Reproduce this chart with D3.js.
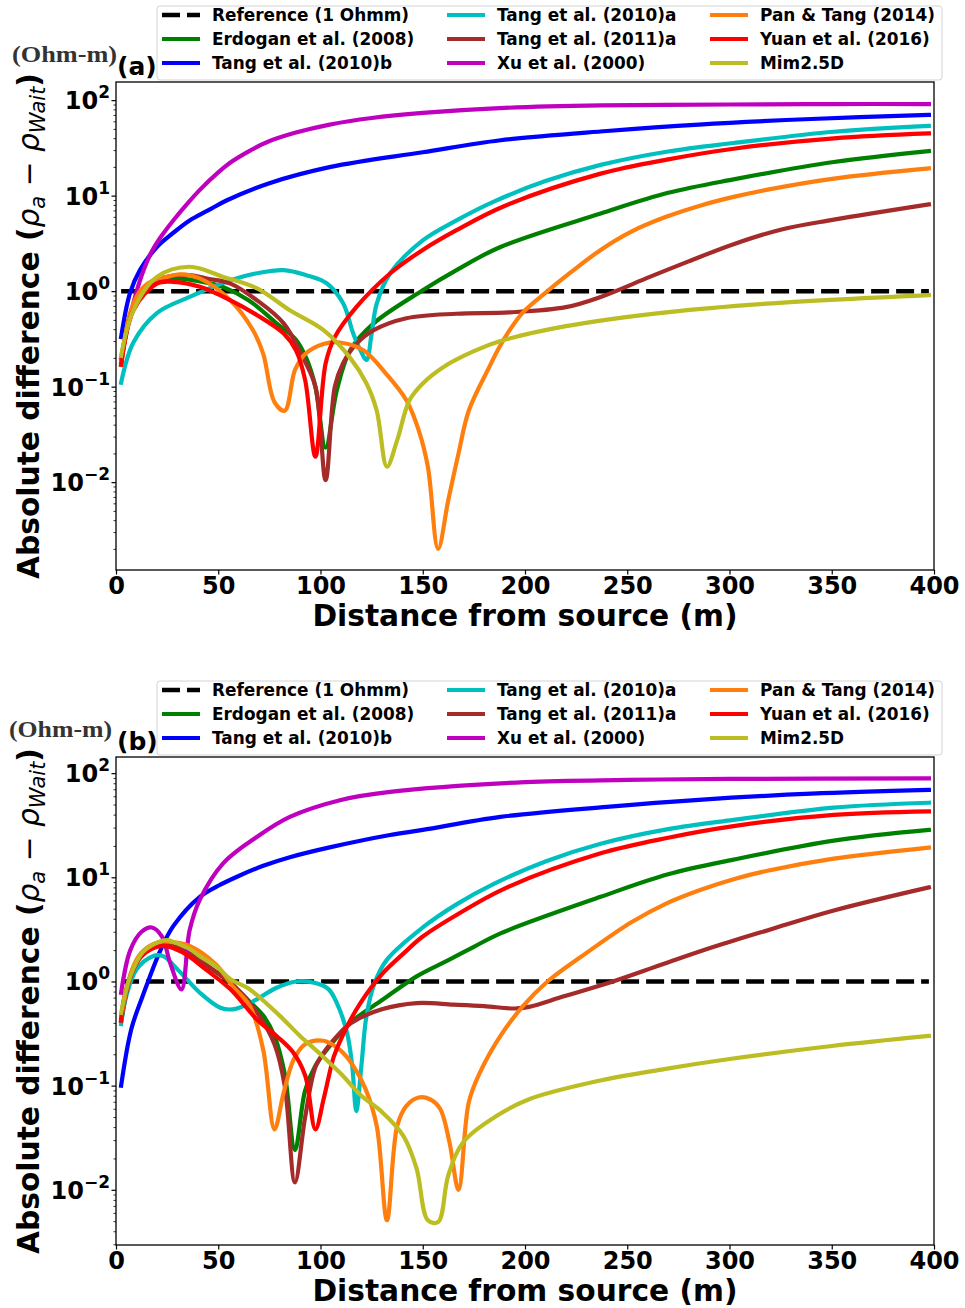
<!DOCTYPE html>
<html><head><meta charset="utf-8">
<script src="https://cdn.jsdelivr.net/npm/d3@7"></script>
<style>
html,body{margin:0;padding:0;background:#fff;}
svg{display:block;}
text{font-family:"DejaVu Sans",sans-serif;}
</style></head>
<body>
<svg id="chart" width="965" height="1308"></svg>
<script>
// ---------------- DATA ----------------
const legendLabels = ["Reference (1 Ohmm)", "Erdogan et al. (2008)", "Tang et al. (2010)b",
  "Tang et al. (2010)a", "Tang et al. (2011)a", "Xu et al. (2000)",
  "Pan & Tang (2014)", "Yuan et al. (2016)", "Mim2.5D"];
const seriesColors = ["#000000", "#008000", "#0000ff", "#00bfbf", "#a52a2a", "#bf00bf", "#ff7f0e", "#ff0000", "#bcbd22"];
const xTicks = [0, 50, 100, 150, 200, 250, 300, 350, 400];
const yTickExps = [-2, -1, 0, 1, 2];
const panelLabels = ["(a)", "(b)"];

const xRef = [2.5, 397.5];
const yRef = [1, 1];

// ---- panel (a) ----
const xGreenA = [2.5, 7.5, 12.5, 20, 27.5, 35, 45, 52, 65, 78.5, 88, 93, 97.5, 102.5, 108, 114.5, 126, 150, 166.5, 188, 237, 270, 302, 351, 397.5];
const yGreenA = [0.18, 0.62, 0.95, 1.25, 1.36, 1.33, 1.22, 1.11, 0.8, 0.46, 0.31, 0.2, 0.1, 0.023, 0.092, 0.24, 0.46, 1.02, 1.66, 2.9, 6.5, 10.7, 14.8, 22.5, 29.3];
const xBlueA = [2.5, 6.8, 11.7, 20, 27.5, 36, 45, 54, 75, 105, 150, 188, 240, 285, 340, 397.5];
const yBlueA = [0.33, 0.95, 1.66, 2.9, 4.0, 5.5, 7.0, 8.9, 13.5, 20, 28.5, 38, 47.5, 55.5, 63.5, 70];
const xCyanA = [2.5, 8.5, 20, 36, 56, 69, 82, 93, 103, 111, 116, 119.5, 122.5, 125, 127.5, 134, 150, 166.5, 185, 210, 237, 270, 302, 351, 397.5];
const yCyanA = [0.11, 0.29, 0.59, 0.87, 1.3, 1.54, 1.66, 1.47, 1.21, 0.75, 0.36, 0.24, 0.19, 0.36, 0.74, 1.53, 3.4, 5.5, 8.7, 14.2, 21, 29, 35.6, 46.7, 53.8];
const xBrownA = [2.5, 7.5, 12.5, 20, 30, 36, 45, 56, 69, 82, 91.5, 97.5, 102.5, 107, 111, 117.5, 126, 142, 166.5, 192.5, 220, 237, 261, 280, 302, 325, 351, 397.5];
const yBrownA = [0.17, 0.62, 1.0, 1.3, 1.47, 1.47, 1.35, 1.2, 0.8, 0.46, 0.2, 0.1, 0.0105, 0.1, 0.175, 0.28, 0.39, 0.52, 0.58, 0.6, 0.68, 0.87, 1.41, 2.05, 3.1, 4.4, 5.6, 8.1];
const xMagentaA = [2.5, 7.5, 12.5, 17.5, 22.5, 28, 35, 41, 50, 57, 66, 74, 87.5, 104.5, 125, 150, 187.5, 237, 300, 350, 397.5];
const yMagentaA = [0.2, 0.62, 1.45, 2.6, 3.85, 5.5, 8.3, 11.5, 17.5, 23, 30, 36.5, 45.5, 55.5, 65, 73.5, 82.5, 88, 90, 91, 91];
const xOrangeA = [2.5, 7.5, 12.5, 20, 25, 31, 41, 56, 67, 72, 77.5, 82.5, 87.5, 92.5, 101.5, 109.5, 121, 132, 142, 148, 152.5, 157.5, 162.5, 167.5, 172.5, 182.5, 187.5, 192.5, 199, 211, 222, 237, 252, 269, 286, 302, 318, 351, 397.5];
const yOrangeA = [0.18, 0.65, 1.05, 1.35, 1.41, 1.5, 1.36, 0.8, 0.39, 0.22, 0.069, 0.056, 0.149, 0.22, 0.28, 0.29, 0.24, 0.137, 0.072, 0.035, 0.0145, 0.002, 0.0065, 0.02, 0.056, 0.16, 0.26, 0.39, 0.6, 1.0, 1.55, 2.7, 4.2, 6.0, 7.9, 9.7, 11.5, 15.1, 19.3];
const xRedA = [2.5, 8.5, 20, 28, 41, 56, 69, 82, 88, 92.5, 97.5, 102.5, 107, 117.5, 134, 150, 166.5, 190, 237, 270, 302, 351, 397.5];
const yRedA = [0.17, 0.63, 1.2, 1.25, 1.11, 0.8, 0.56, 0.36, 0.24, 0.117, 0.0185, 0.175, 0.33, 0.68, 1.53, 2.7, 4.35, 7.8, 17, 24, 31, 39.8, 44.8];
const xOliveA = [2.5, 8.5, 20, 36, 52.5, 69, 85, 101.5, 114.5, 122.5, 127.5, 132.5, 137.5, 143.5, 150, 160, 175, 188, 220, 269, 318, 397.5];
const yOliveA = [0.21, 0.63, 1.41, 1.8, 1.41, 1.07, 0.63, 0.39, 0.2, 0.108, 0.056, 0.0145, 0.0275, 0.072, 0.108, 0.16, 0.235, 0.3, 0.43, 0.6, 0.74, 0.91];

// ---- panel (b) ----
const xGreenB = [2.5, 7.5, 12.5, 20, 27.5, 35, 45, 56, 65, 72, 77.5, 82.5, 87.5, 92.5, 97.5, 106, 114.5, 130.5, 147, 163, 175, 188, 237, 270, 302, 351, 397.5];
const yGreenB = [0.42, 1.2, 1.8, 2.2, 2.15, 1.9, 1.4, 0.97, 0.65, 0.47, 0.3, 0.13, 0.024, 0.09, 0.155, 0.26, 0.4, 0.67, 1.12, 1.62, 2.15, 2.9, 6.5, 10.7, 14.8, 22.5, 28.5];
const xBlueB = [2.5, 7.5, 13, 21.5, 28, 41, 50, 60, 72, 85, 105, 134, 150, 188, 240, 285, 340, 397.5];
const yBlueB = [0.1, 0.35, 0.72, 1.95, 3.4, 6.5, 8.3, 10.3, 12.9, 15.6, 19.5, 25.5, 28.5, 38, 47.5, 55.5, 63.5, 69];
const xCyanB = [2.5, 5, 10, 18, 23, 31, 41, 51, 57, 65.5, 78.5, 88, 98, 104, 108, 113, 115.5, 117.5, 120, 122.5, 126.5, 132.5, 150, 166.5, 185, 210, 237, 270, 302, 351, 397.5];
const yCyanB = [0.39, 0.72, 1.3, 1.75, 1.75, 1.25, 0.78, 0.56, 0.54, 0.62, 0.87, 1.0, 0.96, 0.84, 0.62, 0.32, 0.155, 0.057, 0.155, 0.47, 0.97, 1.62, 3.3, 5.5, 8.7, 14.2, 21, 29, 35.6, 46.7, 52];
const xBrownB = [2.5, 7.5, 12.5, 20, 27.5, 35, 45, 56, 69, 77.5, 82.5, 87.5, 92.5, 97.5, 102.5, 107.5, 115, 130, 147, 165, 180, 195, 202, 219, 243, 268, 292, 320, 351, 397.5];
const yBrownB = [0.42, 1.2, 1.85, 2.25, 2.2, 1.9, 1.4, 0.97, 0.5, 0.25, 0.1, 0.0118, 0.05, 0.15, 0.22, 0.29, 0.4, 0.54, 0.62, 0.6, 0.58, 0.55, 0.57, 0.72, 1.0, 1.48, 2.14, 3.16, 4.8, 8.0];
const xMagentaB = [2.5, 7, 12.5, 17.5, 22.5, 26.5, 32, 36, 41, 52.5, 69, 85, 109.5, 134, 200, 250, 300, 397.5];
const yMagentaB = [0.78, 2.0, 3.0, 3.3, 2.7, 1.5, 0.84, 3.1, 6.1, 13.7, 24.5, 38, 55, 66, 82, 86, 88, 89];
const xOrangeB = [2.5, 7.5, 12.5, 21.5, 30, 36, 49, 57, 65.5, 72, 77.5, 82, 87, 92.5, 101.5, 109.5, 116, 122, 127.5, 132.5, 137.5, 142, 148, 153.5, 158.5, 163, 167.5, 172.5, 178, 188, 199, 211, 232, 252, 269, 286, 302, 318, 351, 397.5];
const yOrangeB = [0.45, 1.25, 1.9, 2.4, 2.35, 2.2, 1.45, 0.9, 0.58, 0.22, 0.038, 0.086, 0.18, 0.25, 0.27, 0.22, 0.155, 0.093, 0.041, 0.0051, 0.041, 0.064, 0.077, 0.074, 0.06, 0.029, 0.01, 0.069, 0.134, 0.3, 0.58, 1.0, 2.0, 3.7, 5.6, 7.6, 9.6, 11.5, 15.1, 19.3];
const xRedB = [2.5, 5, 12.5, 23, 33, 44, 56, 69, 78.5, 86.5, 92.5, 97.5, 101.5, 104.5, 106.5, 113, 119.5, 130.5, 140.5, 150, 166.5, 190, 237, 270, 302, 351, 397.5];
const yRedB = [0.43, 0.84, 1.75, 2.2, 1.88, 1.3, 0.84, 0.43, 0.3, 0.21, 0.125, 0.038, 0.074, 0.134, 0.19, 0.37, 0.62, 1.2, 1.85, 2.7, 4.35, 7.8, 17, 24, 31, 39.8, 43];
const xOliveB = [2.5, 7, 13, 21, 25, 28, 36, 41, 50, 56, 65, 80, 90, 100, 110, 120, 130, 140.5, 147, 152.5, 157.5, 162.5, 170, 186, 202, 235, 268, 300, 350, 397.5];
const yOliveB = [0.5, 1.12, 1.9, 2.4, 2.5, 2.4, 2.05, 1.75, 1.35, 1.05, 0.85, 0.47, 0.3, 0.2, 0.13, 0.08, 0.056, 0.033, 0.016, 0.0051, 0.0049, 0.0138, 0.029, 0.051, 0.074, 0.11, 0.144, 0.18, 0.24, 0.3];

// ---------------- DRAW ----------------
const svg = d3.select("#chart");
const FONT = '"DejaVu Sans", sans-serif';

function zipXY(xs, ys) { return xs.map((x, i) => ({x: x, y: ys[i]})); }

const panels = [
  { top: 82, bottom: 570, yMinExp: -2.92, yMaxExp: 2.19, label: panelLabels[0], ohmX: 12, ohmW: 105,
    series: [[xRef, yRef], [xGreenA, yGreenA], [xBlueA, yBlueA], [xCyanA, yCyanA], [xBrownA, yBrownA],
             [xMagentaA, yMagentaA], [xOrangeA, yOrangeA], [xRedA, yRedA], [xOliveA, yOliveA]] },
  { top: 757, bottom: 1245, yMinExp: -2.53, yMaxExp: 2.155, label: panelLabels[1], ohmX: 9, ohmW: 103,
    series: [[xRef, yRef], [xGreenB, yGreenB], [xBlueB, yBlueB], [xCyanB, yCyanB], [xBrownB, yBrownB],
             [xMagentaB, yMagentaB], [xOrangeB, yOrangeB], [xRedB, yRedB], [xOliveB, yOliveB]] }
];

const left = 116, right = 934;

panels.forEach((p, pi) => {
  const off = p.top - 82;
  const g = svg.append("g");
  const x = d3.scaleLinear().domain([0, 400]).range([left, right]);
  const y = d3.scaleLog().domain([Math.pow(10, p.yMinExp), Math.pow(10, p.yMaxExp)]).range([p.bottom, p.top]);

  const clipId = "clip" + pi;
  g.append("clipPath").attr("id", clipId).append("rect")
    .attr("x", left).attr("y", p.top).attr("width", right - left).attr("height", p.bottom - p.top);

  const line = d3.line().x(d => x(d.x)).y(d => y(d.y)).curve(d3.curveCatmullRom.alpha(0.5));
  const lg = g.append("g").attr("clip-path", `url(#${clipId})`);
  p.series.forEach((s, si) => {
    const path = lg.append("path").datum(zipXY(s[0], s[1]))
      .attr("d", line).attr("fill", "none")
      .attr("stroke", seriesColors[si]).attr("stroke-width", si === 0 ? 4.5 : 4.2)
      .attr("stroke-linejoin", "round");
    if (si === 0) path.attr("stroke-dasharray", "18,7").attr("stroke-linecap", "butt");
    else path.attr("stroke-linecap", "square");
  });

  // x axis
  const xAxis = d3.axisBottom(x).tickValues(xTicks).tickSize(4.5).tickPadding(2).tickFormat(d3.format("d"));
  const xa = g.append("g").attr("transform", `translate(0,${p.bottom})`).call(xAxis);
  xa.select(".domain").remove();
  xa.selectAll(".tick line").attr("stroke", "#000").attr("stroke-width", 1.2);
  xa.selectAll(".tick text").attr("y", 24).attr("dy", 0)
    .style("font-family", FONT).style("font-weight", "bold").style("font-size", "24px").attr("fill", "#000");

  // y axis major ticks
  const majors = yTickExps.map(e => Math.pow(10, e));
  const ya = g.append("g").attr("transform", `translate(${left},0)`)
    .call(d3.axisLeft(y).tickValues(majors).tickSize(4.5).tickFormat(""));
  ya.select(".domain").remove();
  ya.selectAll(".tick line").attr("stroke", "#000").attr("stroke-width", 1.2);
  // minor ticks
  const minors = [];
  for (let e = -3; e <= 2; e++) for (let m = 2; m <= 9; m++) {
    const v = m * Math.pow(10, e);
    if (Math.log10(v) > p.yMinExp && Math.log10(v) < p.yMaxExp) minors.push(v);
  }
  const ym = g.append("g").attr("transform", `translate(${left},0)`)
    .call(d3.axisLeft(y).tickValues(minors).tickSize(2.5).tickFormat(""));
  ym.select(".domain").remove();
  ym.selectAll(".tick line").attr("stroke", "#000").attr("stroke-width", 0.8);

  // y tick labels
  yTickExps.forEach(e => {
    const t = g.append("text").attr("x", 110).attr("y", y(Math.pow(10, e)) + 9)
      .attr("text-anchor", "end").style("font-family", FONT).style("font-weight", "bold").style("font-size", "24px");
    t.append("tspan").text("10");
    t.append("tspan").attr("dy", -11).style("font-size", "17px").text(e < 0 ? "\u2212" + (-e) : String(e));
  });

  // frame
  g.append("rect").attr("x", left).attr("y", p.top).attr("width", right - left).attr("height", p.bottom - p.top)
    .attr("fill", "none").attr("stroke", "#000").attr("stroke-width", 1.3);

  // x label
  g.append("text").attr("x", (left + right) / 2).attr("y", 626 + off).attr("text-anchor", "middle")
    .style("font-family", FONT).style("font-weight", "bold").style("font-size", "29.7px").text("Distance from source (m)");

  // y label
  const yl = g.append("text").attr("transform", `translate(39,${(p.top + p.bottom) / 2}) rotate(-90)`)
    .attr("text-anchor", "middle").style("font-family", FONT).style("font-size", "29.7px");
  yl.append("tspan").style("font-weight", "bold").text("Absolute difference (");
  yl.append("tspan").style("font-style", "italic").text("\u03c1");
  yl.append("tspan").style("font-style", "italic").style("font-size", "21px").attr("dy", 6).text("a");
  yl.append("tspan").attr("dy", -6).text(" \u2212 ");
  yl.append("tspan").style("font-style", "italic").text("\u03c1");
  yl.append("tspan").style("font-style", "italic").style("font-size", "21px").attr("dy", 6).text("Wait");
  yl.append("tspan").attr("dy", -6).style("font-weight", "bold").text(")");

  // (Ohm-m)
  g.append("text").attr("x", p.ohmX).attr("y", 62 + off)
    .attr("textLength", p.ohmW).attr("lengthAdjust", "spacingAndGlyphs")
    .style("font-family", '"Liberation Serif", "Times New Roman", serif').style("font-weight", "bold")
    .style("font-size", "23px").attr("fill", "#333").text("(Ohm-m)");

  // panel label
  g.append("text").attr("x", 117).attr("y", 75 + off)
    .style("font-family", FONT).style("font-weight", "bold").style("font-size", "25px").text(p.label);

  // legend
  const lgd = g.append("g");
  lgd.append("rect").attr("x", 157).attr("y", 6 + off).attr("width", 785).attr("height", 74)
    .attr("rx", 3).attr("fill", "#fff").attr("fill-opacity", 0.9).attr("stroke", "#d3d3d3").attr("stroke-width", 1);
  const colHandle = [162, 447, 710], colText = [212, 497, 760];
  const rowY = [15, 39, 63];
  legendLabels.forEach((lab, i) => {
    const c = Math.floor(i / 3), r = i % 3;
    const yy = rowY[r] + off;
    const h = lgd.append("line").attr("x1", colHandle[c]).attr("x2", colHandle[c] + 38)
      .attr("y1", yy).attr("y2", yy).attr("stroke", seriesColors[i]).attr("stroke-width", i === 0 ? 4.5 : 4.2);
    if (i === 0) h.attr("stroke-dasharray", "18,7");
    lgd.append("text").attr("x", colText[c]).attr("y", yy + 6)
      .style("font-family", FONT).style("font-weight", "bold").style("font-size", "16.9px").text(lab);
  });
});
</script>
</body></html>
